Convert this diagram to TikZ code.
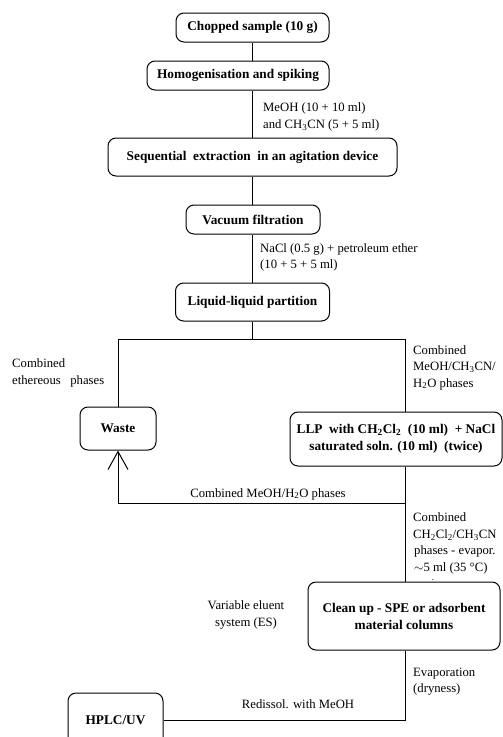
\documentclass[tikz,border=0pt]{standalone}
\usepackage{fontspec}
\setmainfont{Liberation Serif}
\usetikzlibrary{positioning}
\usetikzlibrary{arrows.meta}

\begin{document}
\begin{tikzpicture}[
        x=1pt, y=-1pt,
        font=\fontsize{12.7}{16.5}\selectfont,
        stepbox/.style={rectangle, rounded corners=8pt, draw=black, line width=1pt, align=center, inner sep=2pt, font=\fontsize{13.3}{17}\selectfont\bfseries},
        notetext/.style={align=left, anchor=west, inner sep=0pt},
        flowline/.style={line width=1pt}
    ]

        \useasboundingbox (0,0) rectangle (503,737);

        \node [stepbox, minimum width=153pt, minimum height=29pt] (Sample) at (252.5,27.5) {Chopped sample (10 g)};
        \node [stepbox, minimum width=182pt, minimum height=29pt] (Homog) at (238,75.5) {Homogenisation and spiking};
        \node [stepbox, minimum width=289pt, minimum height=38pt] (Extract) at (252.5,157) {Sequential\ \ extraction\ \ in an agitation device};
        \node [stepbox, minimum width=134pt, minimum height=29pt] (Vacuum) at (253,219.5) {Vacuum filtration};
        \node [stepbox, minimum width=154pt, minimum height=38pt] (Partition) at (252.5,302) {Liquid-liquid partition};
        \node [stepbox, minimum width=76pt, minimum height=43pt] (Waste) at (118,428.5) {Waste};
        \node [stepbox, minimum width=212pt, minimum height=54pt] (LLP) at (396,439) {LLP\ \ with CH\textsubscript{2}Cl\textsubscript{2}\ \ (10 ml)\ \ + NaCl\\saturated soln. (10 ml)\ \ (twice)};
        \node [stepbox, minimum width=192pt, minimum height=68pt] (Cleanup) at (404,616) {Clean up - SPE or adsorbent\\material columns};
        \node [stepbox, minimum width=95pt, minimum height=54pt] (HPLC) at (115.5,720) {HPLC/UV};

        \coordinate (Split) at (252.5,339);
        \coordinate (RightTrunk) at (405,339);
        \coordinate (BackWaste) at (405,503);

        \node [notetext] (MeOHNote) at (263,117) {MeOH (10 + 10 ml)\\and CH\textsubscript{3}CN (5 + 5 ml)};
        \node [notetext] (NaClNote) at (260,257.5) {NaCl (0.5 g) + petroleum ether\\(10 + 5 + 5 ml)};
        \node [notetext] (EtherNote) at (12,373) {Combined\\ethereous\ \ \ phases};
        \node [notetext] (AqNote) at (413,367.5) {Combined\\MeOH/CH\textsubscript{3}CN/\\H\textsubscript{2}O phases};
        \node [inner sep=0pt] (BackNote) at (268,494) {Combined MeOH/H\textsubscript{2}O phases};
        \node [notetext] (OrgNote) at (413,543.5) {Combined\\CH\textsubscript{2}Cl\textsubscript{2}/CH\textsubscript{3}CN\\\hspace{1pt}phases - evapor.\\\hspace{1pt}$\sim$5 ml (35 °C)};
        \node [inner sep=0pt, font=\fontsize{9}{9}\selectfont] (Dot) at (433,580) {.};
        \node [align=center, inner sep=0pt] (EluentNote) at (246,615) {Variable eluent\\system (ES)};
        \node [notetext] (EvapNote) at (413,681.5) {Evaporation\\(dryness)};
        \node [inner sep=0pt] (RedissNote) at (298,704) {Redissol. with MeOH};

        \draw [flowline] (Sample.south) -- (Sample.south |- Homog.north);
        \draw [flowline] (Sample.south |- Homog.south) -- (Extract.north);
        \draw [flowline] (Extract.south) -- (Extract.south |- Vacuum.north);
        \draw [flowline] (Extract.south |- Vacuum.south) -- (Partition.north);
        \draw [flowline] (Partition.south) -- (Split);
        \draw [flowline] (Waste.north) |- (RightTrunk) -- (RightTrunk |- LLP.north);
        \draw [flowline] (RightTrunk |- LLP.south) -- (RightTrunk |- Cleanup.north);
        \draw [flowline, -{Straight Barb[length=18pt, width=20pt, line width=1pt]}] (BackWaste) -| (Waste.south);
        \draw [flowline] (RightTrunk |- Cleanup.south) |- (HPLC.east);

    \end{tikzpicture}
\end{document}
